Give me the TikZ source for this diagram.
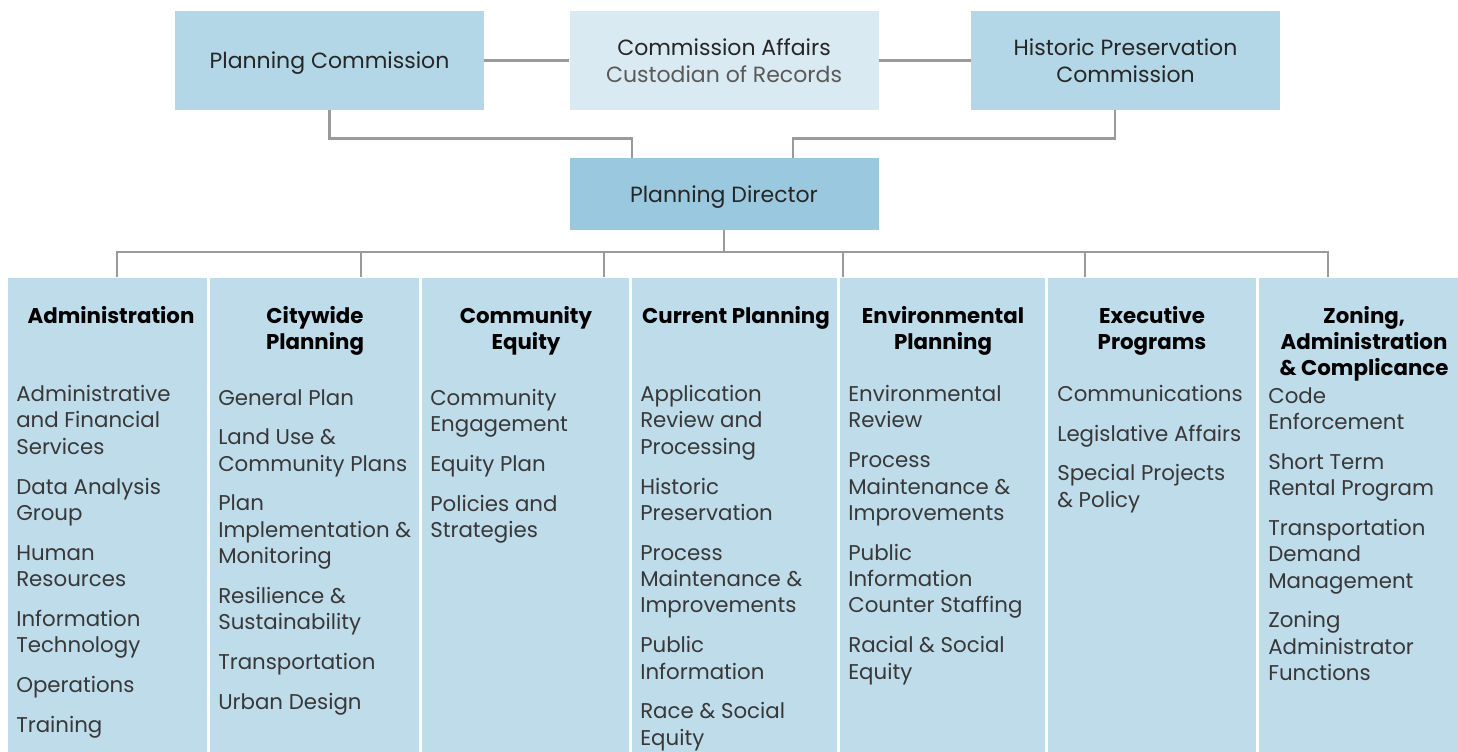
\documentclass[tikz,border=0pt]{standalone}
\usepackage{fontspec}
\setmainfont{Poppins}
\usetikzlibrary{positioning}

\definecolor{boxblue}{HTML}{B3D7E6}
\definecolor{boxpale}{HTML}{DAEAF3}
\definecolor{boxdir}{HTML}{9AC8DF}
\definecolor{colblue}{HTML}{BFDCEA}
\definecolor{linkgray}{HTML}{9A9A9A}
\definecolor{itemtxt}{HTML}{383838}

\tikzset{
	topbox/.style={fill=boxblue, minimum width=231.75pt, minimum height=74.25pt, align=center, font=\fontsize{16.5}{20}\selectfont, text=black!85},
	link/.style={draw=linkgray, line width=2.2pt},
	head/.style={anchor=north, inner sep=0pt, align=center, font=\fontsize{16}{19.5}\selectfont\bfseries},
	items/.style={anchor=north west, inner sep=0pt, align=left, text=itemtxt, font=\fontsize{16}{19.8}\selectfont}
}
\newcommand{\gap}{\\[10pt]}

\begin{document}
\begin{tikzpicture}[x=0.75pt,y=-0.75pt]
		\useasboundingbox (0,0) rectangle (1458,752);
		% top row
		\node[topbox, text depth=0pt] (pc) at (329.5,60.5) {Planning Commission};
		\node[topbox, fill=boxpale] (ca) at (724,60.5) {Commission Affairs\\{\color{black!65}Custodian of Records}};
		\node[topbox] (hpc) at (1125.5,60.5) {Historic Preservation\\Commission};
		\node[topbox, fill=boxdir, minimum height=54pt, text depth=0pt] (dir) at (724,194) {Planning Director};
		\coordinate (dl) at (632,158);
		\coordinate (dr) at (793,158);
		\draw[link] (pc.east) -- (ca.west) (ca.east) -- (hpc.west);
		\draw[link] (pc.south) -- ++(0,28) -| (dl);
		\draw[link] (hpc.south -| 1115,0) -- ++(0,28) -| (dr);
		% bus to the divisions
		\draw[link] (dir.south) -- ++(0,22) coordinate (bus);
		\draw[link] (117,252) -- (1328,252);
		\foreach \x in {117,361,604,843,1085,1328}
			\draw[link] (\x,251) -- (\x,277);
		% division columns
		\fill[colblue] (8,278) rectangle (207,752);
		\fill[colblue] (210,278) rectangle (419,752);
		\fill[colblue] (422,278) rectangle (629,752);
		\fill[colblue] (632,278) rectangle (837,752);
		\fill[colblue] (840,278) rectangle (1045,752);
		\fill[colblue] (1048,278) rectangle (1256,752);
		\fill[colblue] (1259,278) rectangle (1458,752);
		% headings
		\node[head] (hadm) at (111,306) {Administration};
		\node[head] (hcit) at (315,306) {Citywide\\Planning};
		\node[head] (hequ) at (526,306) {Community\\Equity};
		\node[head] (hcur) at (736,306) {Current Planning};
		\node[head] (henv) at (943,306) {Environmental\\Planning};
		\node[head] (hexe) at (1152,306) {Executive\\Programs};
		\node[head] (hzon) at (1364,306) {Zoning,\\Administration\\\& Complicance};
		% items
		\node[items] (iadm) at (16,385) {Administrative\\and Financial\\Services\gap Data Analysis\\Group\gap Human\\Resources\gap Information\\Technology\gap Operations\gap Training};
		\node[items] (icit) at (218,389) {General Plan\gap Land Use \&\\Community Plans\gap Plan\\Implementation \&\\Monitoring\gap Resilience \&\\Sustainability\gap Transportation\gap Urban Design};
		\node[items] (iequ) at (430,389) {Community\\Engagement\gap Equity Plan\gap Policies and\\Strategies};
		\node[items] (icur) at (640,385) {Application\\Review and\\Processing\gap Historic\\Preservation\gap Process\\Maintenance \&\\Improvements\gap Public\\Information\gap Race \& Social\\Equity};
		\node[items] (ienv) at (848,385) {Environmental\\Review\gap Process\\Maintenance \&\\Improvements\gap Public\\Information\\Counter Staffing\gap Racial \& Social\\Equity};
		\node[items] (iexe) at (1057,385) {Communications\gap Legislative Affairs\gap Special Projects\\\& Policy};
		\node[items] (izon) at (1268,387) {Code\\Enforcement\gap Short Term\\Rental Program\gap Transportation\\Demand\\Management\gap Zoning\\Administrator\\Functions};
\end{tikzpicture}
\end{document}
